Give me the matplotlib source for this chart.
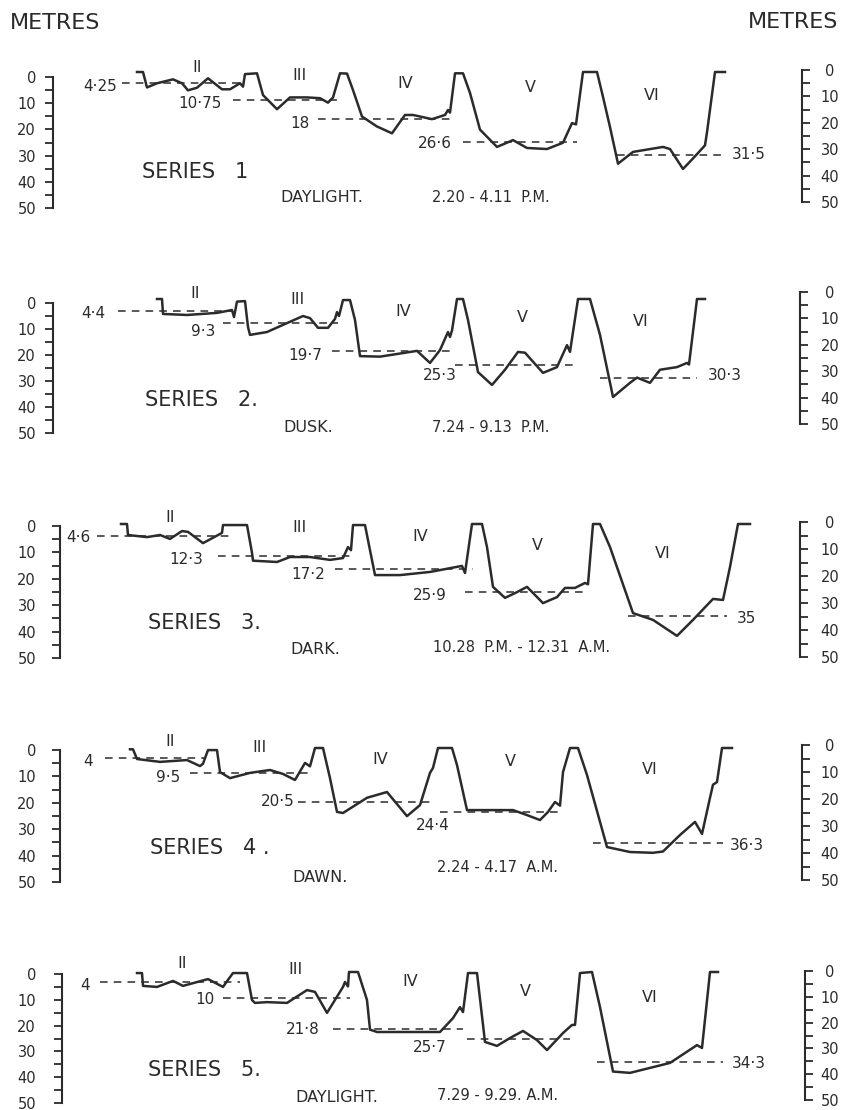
import matplotlib
matplotlib.use('Agg')
import matplotlib.pyplot as plt
from matplotlib.ticker import MultipleLocator

plt.rcParams['font.family'] = ['DejaVu Sans']
INK = '#2b2b2b'

# ---- depth traces: position along the run, depth in metres ----
s1_x = [137, 143, 147, 157, 173, 182, 188, 197, 208, 222, 230, 240, 243, 245, 257,
        263, 277, 290, 307, 320, 328, 333, 340, 347, 353, 362, 377, 392, 405, 413,
        432, 445, 448, 450, 455, 463, 470, 480, 497, 513, 527, 547, 563, 572, 576,
        583, 597, 603, 610, 618, 633, 663, 670, 683, 693, 705, 707, 715, 725]
s1_depth = [0, 0, 5.9, 4.3, 2.8, 4.3, 7, 6, 2.4, 6.6, 6.6, 4.3, 5.6, 0.8, 0.5,
            8.8, 14.2, 9.7, 9.7, 10, 11.7, 9.7, 0.5, 0.6, 6.9, 17, 20.8, 23.4, 16.4, 16.4,
            18, 16.4, 14.5, 15.5, 0.5, 0.5, 8, 22, 28.6, 26, 29, 29.4, 27, 19.5, 20,
            0, 0, 9.5, 21, 35, 30.5, 28.6, 29.4, 37, 33, 28, 23, 0, 0]

s2_x = [157, 162, 163, 187, 217, 232, 234, 237, 245, 248, 250, 267, 287, 303, 310,
        318, 328, 335, 337, 339, 343, 350, 355, 360, 380, 417, 430, 440, 448, 450,
        452, 457, 463, 468, 478, 492, 505, 518, 525, 543, 557, 567, 570, 578, 590,
        600, 613, 630, 637, 650, 660, 677, 687, 689, 697, 705]
s2_depth = [0, 0, 5.7, 6.1, 5.3, 4.2, 6.9, 1, 0.8, 10.7, 13.7, 12.6, 9.2, 6.5, 7.3,
            11, 11, 7.6, 5, 6.5, 0.4, 0.4, 8, 21.8, 22, 19.8, 24.4, 19.5, 12.6, 14.5,
            12, 0, 0, 8, 27.9, 32.8, 27, 20.2, 20.5, 28.2, 26, 17.6, 20.2, 0, 0,
            13.7, 37.4, 32, 30, 32, 27, 26, 24.4, 25, 0, 0]

s3_x = [121, 127, 128, 147, 160, 170, 182, 188, 203, 222, 223, 247, 252, 253, 277,
        290, 310, 330, 343, 348, 351, 353, 365, 370, 375, 400, 430, 462, 465, 472,
        482, 487, 493, 505, 517, 527, 543, 557, 565, 575, 585, 588, 593, 600, 610,
        633, 653, 677, 693, 713, 723, 730, 738, 750]
s3_depth = [0, 0, 4.2, 5, 4.2, 5.7, 2.7, 3, 7.3, 3.4, 0.4, 0.4, 11, 14, 14.5,
            12.6, 12.6, 13.7, 13, 8.8, 10, 0.4, 0.4, 10, 19.5, 19.5, 18.3, 16, 18.7, 0,
            0, 8.8, 24, 28.2, 26, 24, 30.2, 27.9, 24.4, 24.4, 22.5, 23, 0, 0, 8.8,
            34, 36.6, 42.7, 36.6, 28.6, 29, 16.4, 0, 0]

s4_x = [130, 133, 137, 160, 187, 200, 203, 208, 217, 220, 230, 250, 270, 283, 295,
        305, 310, 315, 323, 330, 337, 343, 367, 387, 407, 420, 430, 433, 438, 452,
        457, 467, 513, 527, 540, 548, 555, 560, 563, 570, 578, 587, 607, 630, 653,
        663, 680, 695, 702, 710, 713, 717, 722, 732]
s4_depth = [0.5, 0.5, 4.2, 5.3, 4.6, 6.9, 6, 0.8, 0.8, 9.2, 11.5, 9.5, 8.4, 9.9, 12.2,
            5.7, 7, 0, 0, 11.5, 24.4, 24.8, 19, 16.8, 26, 21.8, 9.5, 7.6, 0, 0,
            6.5, 23.7, 23.7, 25.6, 27.5, 24.4, 20.6, 22, 9.2, 0, 0, 10.3, 37.8, 39.7, 40,
            39.5, 33.2, 28.2, 32.8, 19, 14, 13, 0, 0]

s5_x = [137, 142, 143, 157, 173, 183, 208, 223, 228, 233, 247, 252, 255, 267, 287,
        307, 315, 327, 343, 345, 348, 349, 358, 367, 370, 377, 440, 453, 460, 463,
        468, 477, 485, 497, 510, 523, 537, 547, 563, 572, 575, 580, 592, 600, 613,
        630, 650, 670, 697, 702, 710, 718]
s5_depth = [0.4, 0.4, 5.3, 5.7, 3.4, 5.3, 2.7, 5.7, 3, 0.4, 0.4, 10.7, 11.8, 11.5, 11.8,
            6.9, 7.6, 15.6, 5.7, 3.8, 5.5, 0, 0, 10.7, 22, 22.9, 22.9, 17.6, 13.4, 15.3,
            0.4, 0.4, 26.7, 28.2, 25.2, 22.5, 26, 29.8, 23.3, 20.2, 20.2, 0.4, 0, 13.4, 38,
            38.5, 36.6, 34.7, 27.9, 29, 0, 0]

# ---- mean depth of each station stretch (II..VI) ----
s1_means = [4.25, 10.75, 18, 26.6, 31.5]
s1_from = [122, 233, 318, 463, 617]
s1_to = [240, 343, 450, 577, 725]
s2_means = [4.4, 9.3, 19.7, 25.3, 30.3]
s2_from = [118, 223, 332, 455, 600]
s2_to = [232, 338, 450, 574, 697]
s3_means = [4.6, 12.3, 17.2, 25.9, 35]
s3_from = [97, 218, 335, 465, 628]
s3_to = [233, 350, 473, 588, 727]
s4_means = [4, 9.5, 20.5, 24.4, 36.3]
s4_from = [105, 190, 298, 440, 593]
s4_to = [205, 313, 433, 560, 723]
s5_means = [4, 10, 21.8, 25.7, 34.3]
s5_from = [100, 223, 333, 467, 597]
s5_to = [240, 350, 463, 570, 723]

stations = ['II', 'III', 'IV', 'V', 'VI']
titles = ['SERIES   1', 'SERIES   2.', 'SERIES   3.', 'SERIES   4 .', 'SERIES   5.']
periods = ['DAYLIGHT.', 'DUSK.', 'DARK.', 'DAWN.', 'DAYLIGHT.']
times = ['2.20 - 4.11  P.M.', '7.24 - 9.13  P.M.', '10.28  P.M. - 12.31  A.M.',
         '2.24 - 4.17  A.M.', '7.29 - 9.29. A.M.']

all_x = [s1_x, s2_x, s3_x, s4_x, s5_x]
all_d = [s1_depth, s2_depth, s3_depth, s4_depth, s5_depth]
all_m = [s1_means, s2_means, s3_means, s4_means, s5_means]
all_from = [s1_from, s2_from, s3_from, s4_from, s5_from]
all_to = [s1_to, s2_to, s3_to, s4_to, s5_to]

# ---- layout (pixels) ----
W, H = 855, 1110
PX_PER_M = 2.62
trace_top = [72, 299, 524, 748, 972]
left_scale = [(77, 208), (303, 433), (526, 658), (750, 882), (974, 1103)]
right_scale = [(70, 202), (292, 424), (522, 657), (745, 880), (971, 1100)]
left_spine = [53, 53, 60, 60, 62]
right_spine = [802, 800, 800, 802, 805]
# mean-label anchors: x edge and vertical nudge (m)
lab_x = [[117, 222, 310, 452, 732], [105, 215, 322, 457, 708], [90, 203, 325, 447, 737],
         [93, 180, 295, 450, 730], [90, 215, 320, 447, 732]]
lab_dy = [[1.1, 1.1, 1.5, 0.5, 0], [1, 3, 1.7, 3.8, -1.2], [0.4, 1.1, 2.2, 1.2, 0.9],
          [1.3, 1.9, 0, 5, 0.8], [1, 0.4, 0, 3, 0.8]]
roman_xy = [[(197, 68), (300, 75), (405, 83), (530, 88), (652, 95)],
            [(195, 294), (297, 300), (403, 312), (522, 318), (641, 322)],
            [(170, 517), (300, 528), (420, 537), (537, 545), (663, 553)],
            [(170, 742), (260, 747), (380, 760), (510, 762), (650, 770)],
            [(182, 963), (295, 970), (410, 982), (525, 992), (650, 998)]]
title_xy = [(142, 172), (145, 400), (148, 623), (150, 848), (148, 1070)]
period_xy = [(280, 198), (283, 427), (290, 649), (292, 877), (295, 1097)]
time_xy = [(432, 197), (432, 427), (433, 648), (437, 868), (437, 1095)]

fig = plt.figure(figsize=(W / 100, H / 100), dpi=100)
fig.patch.set_facecolor('white')


def rect(top, bottom):
    return [0, 1 - bottom / H, 1, (bottom - top) / H]


def ftxt(x, y, s, size, ha='left'):
    fig.text(x / W, 1 - y / H, s, fontsize=size, ha=ha, va='center', color=INK)


def depth_scale(top, bottom, xs, side):
    a = fig.add_axes(rect(top, bottom))
    a.set_xlim(0, W)
    a.set_ylim(50, 0)
    a.patch.set_visible(False)
    for s in a.spines.values():
        s.set_visible(False)
    sp = a.spines[side]
    sp.set_visible(True)
    sp.set_position(('data', xs))
    sp.set_linewidth(1.5)
    sp.set_color(INK)
    a.set_xticks([])
    a.yaxis.set_major_locator(MultipleLocator(10))
    a.yaxis.set_minor_locator(MultipleLocator(5))
    a.set_yticks(range(0, 51, 10))
    if side == 'right':
        a.yaxis.tick_right()
        pad = (830 - xs - 8) * 0.72
    else:
        pad = (xs - 8 - 36) * 0.72
    a.tick_params(axis='y', which='both', direction='out', length=5.8, width=1.3,
                  colors=INK, labelsize=10.5)
    a.tick_params(axis='y', which='major', pad=pad)
    if side == 'right':
        for t in a.yaxis.get_major_ticks():
            t.label2.set_horizontalalignment('center')
    return a


for i in range(5):
    top = trace_top[i]
    ax = fig.add_axes(rect(top, top + 50 * PX_PER_M))
    ax.set_xlim(0, W)
    ax.set_ylim(50, 0)
    ax.axis('off')

    ax.plot(all_x[i], all_d[i], color=INK, lw=1.8, solid_joinstyle='round', clip_on=False)
    for j, m in enumerate(all_m[i]):
        ax.plot([all_from[i][j], all_to[i][j]], [m, m], color=INK, lw=1.1,
                ls=(0, (5, 4)), clip_on=False)
        txt = f'{m:g}'.replace('.', '·')
        ha = 'left' if j == 4 else 'right'
        ax.text(lab_x[i][j], m + lab_dy[i][j], txt, fontsize=11, ha=ha, va='center',
                color=INK, clip_on=False)

    depth_scale(*left_scale[i], left_spine[i], 'left')
    depth_scale(*right_scale[i], right_spine[i], 'right')

    for name, (rx, ry) in zip(stations, roman_xy[i]):
        ftxt(rx, ry, name, 11.5, ha='center')
    ftxt(*title_xy[i], titles[i], 15)
    ftxt(*period_xy[i], periods[i], 11.5)
    ftxt(*time_xy[i], times[i], 10.5)

ftxt(10, 23, 'METRES', 16)
ftxt(838, 22, 'METRES', 16, ha='right')

fig.savefig('out.png', dpi=100, facecolor='white')
